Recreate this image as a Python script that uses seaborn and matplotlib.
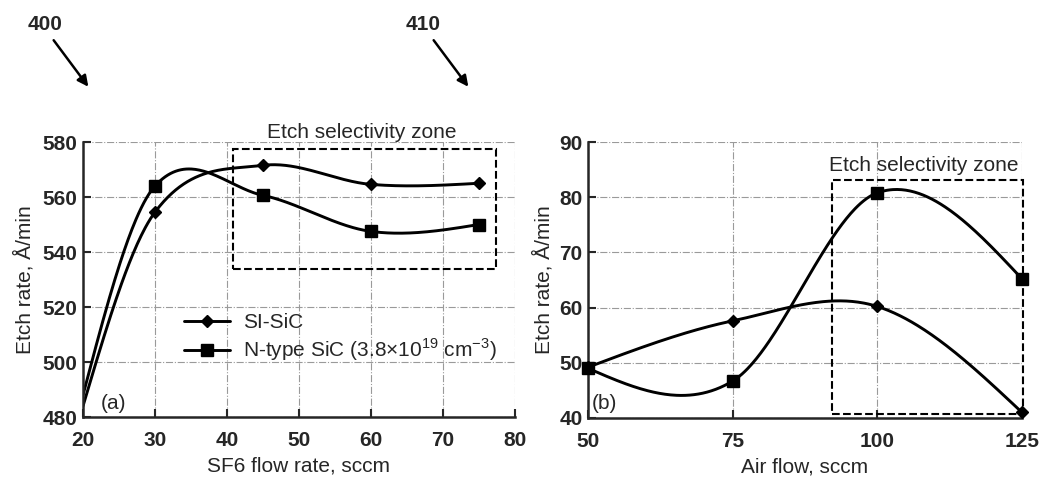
import matplotlib
matplotlib.use('Agg')
import matplotlib.pyplot as plt
from matplotlib.lines import Line2D
from matplotlib.patches import FancyArrowPatch, Rectangle
import seaborn as sns
import numpy as np

# Panel (a): etch rate vs SF6 flow
sf6_flow = [20, 30, 45, 60, 75]
sf6_si = [484, 554.5, 571.5, 564.6, 565]
sf6_ntype = [488, 564, 560.6, 547.5, 550]

# Panel (b): etch rate vs air flow
air_flow = [50, 75, 100, 125]
air_si = [49.2, 57.6, 60.2, 41]
air_ntype = [49, 46.7, 80.8, 65.2]

series_names = ['SI-SiC', 'N-type SiC (3.8\u00d710$^{19}$ cm$^{-3}$)']

sns.set_style('ticks')
plt.rcParams['font.family'] = ['Liberation Sans', 'DejaVu Sans']
plt.rcParams['mathtext.fontset'] = 'custom'
plt.rcParams['mathtext.rm'] = 'Liberation Sans'
plt.rcParams['xtick.direction'] = 'in'
plt.rcParams['ytick.direction'] = 'in'

FS = 15


def smooth(x, y, n=300):
    # Hermite curve through the measured points, finite-difference tangents (drawing only)
    x = np.asarray(x, float)
    y = np.asarray(y, float)
    m = len(x)
    d = np.diff(y) / np.diff(x)
    t = np.zeros(m)
    for i in range(1, m - 1):
        t[i] = (y[i + 1] - y[i - 1]) / (x[i + 1] - x[i - 1])
    t[0] = (3 * d[0] - t[1]) / 2
    t[-1] = (3 * d[-1] - t[-2]) / 2
    xs = np.linspace(x[0], x[-1], n)
    idx = np.clip(np.searchsorted(x, xs) - 1, 0, m - 2)
    h = x[idx + 1] - x[idx]
    s = (xs - x[idx]) / h
    h00 = 2 * s**3 - 3 * s**2 + 1
    h10 = s**3 - 2 * s**2 + s
    h01 = -2 * s**3 + 3 * s**2
    h11 = s**3 - s**2
    ys = h00 * y[idx] + h10 * h * t[idx] + h01 * y[idx + 1] + h11 * h * t[idx + 1]
    return xs, ys


def draw_panel(ax, x, si, nt, first_marker=0):
    for vals, mk, ms in [(si, 'D', 6), (nt, 's', 8)]:
        xs, ys = smooth(x, vals)
        sns.lineplot(x=xs, y=ys, ax=ax, color='black', lw=2.1, sort=False)
        ax.plot(x[first_marker:], vals[first_marker:], ls='none', marker=mk, ms=ms,
                color='black', clip_on=False, zorder=5)
    ax.grid(True, ls='-.', color='#9a9a9a', lw=0.8)
    sns.despine(ax=ax)
    for s in ['left', 'bottom']:
        ax.spines[s].set_linewidth(1.8)
    ax.tick_params(length=6, width=1.5, labelsize=FS)
    ax.tick_params(axis='x', pad=10)
    ax.tick_params(axis='y', pad=4)


fig = plt.figure(figsize=(10.43, 4.87), dpi=100)
ax1 = fig.add_axes([0.0796, 0.1437, 0.414, 0.5647])
ax2 = fig.add_axes([0.5638, 0.1417, 0.4161, 0.5667])

# (a)
draw_panel(ax1, sf6_flow, sf6_si, sf6_ntype, first_marker=1)
ax1.set_xlim(20, 80)
ax1.set_ylim(480, 580)
ax1.set_xticks(np.arange(20, 81, 10))
ax1.set_yticks(np.arange(480, 581, 20))
ax1.set_xlabel('SF6 flow rate, sccm', fontsize=FS, labelpad=5)
ax1.set_ylabel('Etch rate, \u00c5/min', fontsize=FS, labelpad=6)
ax1.add_patch(Rectangle((40.8, 534), 36.6, 43.3, fill=False, ls='--', lw=1.5, color='black'))
ax1.text(58.7, 583.3, 'Etch selectivity zone', ha='center', va='center', fontsize=FS)
ax1.text(24.2, 485, '(a)', ha='center', va='center', fontsize=FS)
handles = [Line2D([], [], color='black', lw=2.1, marker='D', ms=6),
           Line2D([], [], color='black', lw=2.1, marker='s', ms=8)]
ax1.legend(handles, series_names, loc='upper left', bbox_to_anchor=(0.235, 0.377),
           frameon=False, fontsize=FS, handlelength=2.2, handletextpad=0.6,
           labelspacing=0.2, borderaxespad=0, borderpad=0)

# (b)
draw_panel(ax2, air_flow, air_si, air_ntype)
ax2.set_xlim(50, 125)
ax2.set_ylim(40, 90)
ax2.set_xticks(air_flow)
ax2.set_yticks(np.arange(40, 91, 10))
ax2.set_xlabel('Air flow, sccm', fontsize=FS, labelpad=5)
ax2.set_ylabel('Etch rate, \u00c5/min', fontsize=FS, labelpad=4)
ax2.add_patch(Rectangle((92.2, 40.8), 33, 42.3, fill=False, ls='--', lw=1.5,
                        color='black', clip_on=False))
ax2.text(108, 85.8, 'Etch selectivity zone', ha='center', va='center', fontsize=FS)
ax2.text(52.9, 42.7, '(b)', ha='center', va='center', fontsize=FS)

for a in (ax1, ax2):
    for lab in a.get_xticklabels() + a.get_yticklabels():
        lab.set_fontweight('bold')

# figure reference numerals with arrows
for label, tx, (x0, y0), (x1, y1) in [('400', 45, (52, 38), (90, 89)),
                                      ('410', 423, (432, 38), (470, 89))]:
    fig.text(tx / 1043, 1 - 25 / 487, label, ha='center', va='center',
             fontsize=15, fontweight='bold', family=['Liberation Sans Narrow', 'Liberation Sans'])
    fig.add_artist(FancyArrowPatch(
        (x0 / 1043, 1 - y0 / 487), (x1 / 1043, 1 - y1 / 487), transform=fig.transFigure,
        arrowstyle='-|>', mutation_scale=16, lw=1.8, color='black'))

fig.savefig('out.png', dpi=100)
